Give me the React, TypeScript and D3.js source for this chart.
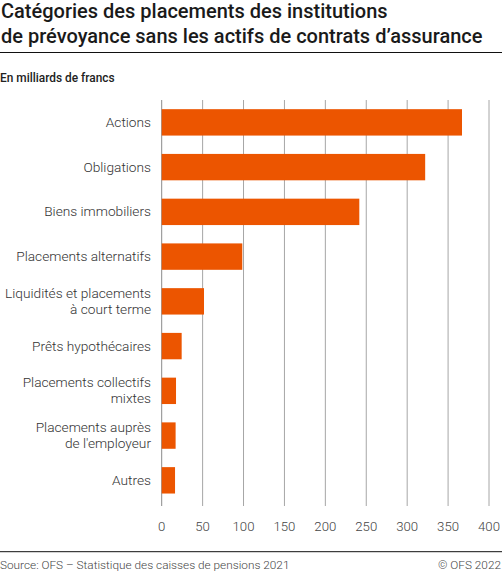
import React from "react";
import * as d3 from "d3";

// Catégories de placements, en milliards de francs
const categories = [
  "Actions",
  "Obligations",
  "Biens immobiliers",
  "Placements alternatifs",
  "Liquidités et placements\nà court terme",
  "Prêts hypothécaires",
  "Placements collectifs\nmixtes",
  "Placements auprès\nde l'employeur",
  "Autres",
];
const values = [367, 322, 241.5, 98.5, 51.7, 24.4, 17.5, 17, 16.3];
const tickValues = [0, 50, 100, 150, 200, 250, 300, 350, 400];

const titleLines = [
  "Catégories des placements des institutions",
  "de prévoyance sans les actifs de contrats d’assurance",
];
const unitLabel = "En milliards de francs";
const sourceText = "Source: OFS – Statistique des caisses de pensions 2021";
const copyright = "© OFS 2022";

const width = 502;
const height = 573;
const FONT = "Roboto, 'Noto Sans', sans-serif";
const BAR = "#ec5500";

export default function App() {
  const x = d3.scaleLinear().domain([0, 400]).range([161.7, 489]);
  const y = d3
    .scaleBand<string>()
    .domain(categories)
    .range([100, 502.7])
    .paddingInner(0.41)
    .paddingOuter(0.205);

  return (
    <svg
      width={width}
      height={height}
      style={{ position: "absolute", left: 0, top: 0, background: "#fff" }}
      fontFamily={FONT}
    >
      {/* titre */}
      {titleLines.map((t, i) => (
        <text key={t} x={1} y={17.5 + i * 25.3} fontSize={20} fontWeight={500} fill="#1a1a1a">
          {t}
        </text>
      ))}
      <line x1={0} x2={width} y1={52.5} y2={52.5} stroke="#111" strokeWidth={1} />
      <text x={0} y={82.3} fontSize={11.9} fontWeight={500} fill="#222">
        {unitLabel}
      </text>

      {/* grille */}
      {tickValues.map((t) => (
        <g key={t}>
          <line
            x1={x(t)}
            x2={x(t)}
            y1={100}
            y2={506}
            stroke={t === 0 ? "#8a8a8a" : "#a6a6a6"}
            strokeWidth={1}
          />
          <text x={x(t)} y={530.5} fontSize={13.2} fontWeight={300} textAnchor="middle" fill="#444">
            {t}
          </text>
        </g>
      ))}

      {/* barres */}
      {categories.map((c, i) => (
        <rect
          key={c}
          x={x(0)}
          y={y(c)}
          width={x(values[i]) - x(0)}
          height={y.bandwidth()}
          fill={BAR}
        />
      ))}

      {/* étiquettes */}
      {categories.map((c) => {
        const lines = c.split("\n");
        const cy = (y(c) as number) + y.bandwidth() / 2;
        const off = ((lines.length - 1) * 16) / 2;
        return (
          <text key={c} x={151} fontSize={13.7} fontWeight={300} textAnchor="end" fill="#333">
            {lines.map((l, j) => (
              <tspan key={j} x={151} y={cy + 4.6 - off + j * 16}>
                {l}
              </tspan>
            ))}
          </text>
        );
      })}

      {/* pied */}
      <line x1={0} x2={width} y1={551.7} y2={551.7} stroke="#111" strokeWidth={1} />
      <text x={0} y={569} fontSize={11.8} fontWeight={300} fill="#444">
        {sourceText}
      </text>
      <text x={501} y={569} fontSize={11.8} fontWeight={300} fill="#444" textAnchor="end">
        {copyright}
      </text>
    </svg>
  );
}
